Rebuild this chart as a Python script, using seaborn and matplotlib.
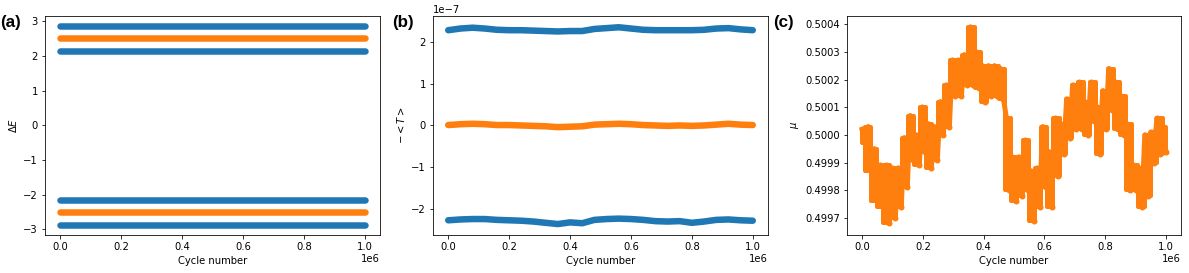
import numpy as np
import pandas as pd
import matplotlib
matplotlib.use("Agg")
import matplotlib.pyplot as plt
import seaborn as sns

# ======================
# data
# ======================
blue = "#1f77b4"
orange = "#ff7f0e"

# (a) energy gaps, constant over the run
cycles_a = [0, 1e6]
dE_blue = [2.86, 2.14, -2.14, -2.86]
dE_orange = [2.5, -2.5]

# (b) -<T>, sampled every 4e4 cycles
cycles_b = [0, 4e4, 8e4, 1.2e5, 1.6e5, 2e5, 2.4e5, 2.8e5, 3.2e5, 3.6e5, 4e5, 4.4e5, 4.8e5,
            5.2e5, 5.6e5, 6e5, 6.4e5, 6.8e5, 7.2e5, 7.6e5, 8e5, 8.4e5, 8.8e5, 9.2e5, 9.6e5, 1e6]
T_upper = [2.28, 2.32, 2.34, 2.32, 2.29, 2.28, 2.28, 2.27, 2.26, 2.25, 2.26, 2.26, 2.31,
           2.33, 2.35, 2.32, 2.29, 2.28, 2.28, 2.28, 2.28, 2.29, 2.32, 2.33, 2.30, 2.28]
T_mid = [0.01, 0.03, 0.04, 0.03, 0.01, 0.01, 0.0, -0.01, -0.02, -0.04, -0.03, -0.02, 0.02,
         0.03, 0.04, 0.03, 0.01, 0.0, -0.01, 0.0, -0.01, 0.0, 0.02, 0.04, 0.02, 0.01]
T_lower = [-2.27, -2.25, -2.24, -2.24, -2.26, -2.27, -2.28, -2.30, -2.33, -2.36, -2.32, -2.34, -2.26,
           -2.24, -2.23, -2.24, -2.26, -2.29, -2.30, -2.29, -2.33, -2.30, -2.26, -2.25, -2.27, -2.28]

# (c) mu: upper / lower edge of the noisy trace every 2e4 cycles
mu_hi = [0.50002, 0.50003, 0.49995, 0.49989, 0.49989, 0.49988, 0.49988, 0.49999, 0.50007, 0.50000,
         0.50010, 0.50004, 0.50003, 0.50012, 0.50018, 0.50027, 0.50027, 0.50029, 0.50039, 0.50030,
         0.50025, 0.50025, 0.50025, 0.50024, 0.50006, 0.49992, 0.49992, 0.49998, 0.49987, 0.49988,
         0.50003, 0.49994, 0.50006, 0.50004, 0.50013, 0.50018, 0.50019, 0.50012, 0.50019, 0.50010,
         0.50016, 0.50024, 0.50019, 0.50014, 0.50004, 0.49989, 0.49988, 0.50000, 0.50001, 0.50006,
         0.50003]
mu_lo = [0.49997, 0.49987, 0.49976, 0.49974, 0.49968, 0.49970, 0.49974, 0.49981, 0.49991, 0.49989,
         0.49994, 0.49988, 0.49991, 0.50000, 0.50003, 0.50014, 0.50014, 0.50018, 0.50018, 0.50017,
         0.50012, 0.50014, 0.50014, 0.50013, 0.49980, 0.49976, 0.49978, 0.49980, 0.49969, 0.49974,
         0.49981, 0.49974, 0.49985, 0.49993, 0.49999, 0.50002, 0.50002, 0.50000, 0.50005, 0.49993,
         0.50002, 0.50009, 0.50002, 0.50000, 0.49980, 0.49980, 0.49974, 0.49978, 0.49990, 0.49993,
         0.49994]
cycles_c = np.linspace(0, 1e6, len(mu_hi))

# interleave the two edges into one jittery trace
mu = [v for pair in zip(mu_hi, mu_lo) for v in pair]
cycles_mu = np.linspace(0, 1e6, len(mu))

# ======================
# figure
# ======================
fig = plt.figure(figsize=(1189 / 72, 273 / 72), dpi=72)
W, H = 1189, 273
bot = (H - 234.5) / H
hgt = 218.5 / H
ax_a = fig.add_axes([45 / W, bot, 335 / W, hgt])
ax_b = fig.add_axes([433 / W, bot, 335 / W, hgt])
ax_c = fig.add_axes([847 / W, bot, 334 / W, hgt])

line_kw = dict(linewidth=6.5, solid_capstyle="round", legend=False)

# (a)
for v in dE_blue:
    sns.lineplot(x=cycles_a, y=[v, v], color=blue, ax=ax_a, **line_kw)
for v in dE_orange:
    sns.lineplot(x=cycles_a, y=[v, v], color=orange, ax=ax_a, **line_kw)
ax_a.set_ylabel(r"$\Delta E$")
ax_a.set_xlabel("Cycle number")

# (b)
sns.lineplot(x=cycles_b, y=np.array(T_upper) * 1e-7, color=blue, ax=ax_b, **line_kw)
sns.lineplot(x=cycles_b, y=np.array(T_mid) * 1e-7, color=orange, ax=ax_b, **line_kw)
sns.lineplot(x=cycles_b, y=np.array(T_lower) * 1e-7, color=blue, ax=ax_b, **line_kw)
ax_b.set_ylim(-2.61e-7, 2.62e-7)
ax_b.set_ylabel(r"$-<T>$")
ax_b.set_xlabel("Cycle number")

# (c) band between the edges, plus the jittery trace on top
ax_c.fill_between(cycles_c, mu_lo, mu_hi, color=orange, linewidth=4,
                  edgecolor=orange, step="mid")
sns.lineplot(x=cycles_mu, y=mu, color=orange, ax=ax_c, linewidth=5,
             marker="o", markersize=6, markeredgewidth=0, legend=False)
ax_c.set_ylim(0.49964, 0.50043)
ax_c.set_ylabel(r"$\mu$")
ax_c.set_xlabel("Cycle number")

for ax in (ax_a, ax_b, ax_c):
    ax.set_xlim(-0.05e6, 1.05e6)
    ax.set_xticks([0, 0.2e6, 0.4e6, 0.6e6, 0.8e6, 1e6])

# panel letters
for xpos, lab in [(0.0, "(a)"), (392 / W, "(b)"), (773 / W, "(c)")]:
    fig.text(xpos, 1 - 22 / H, lab, ha="left", va="center", fontsize=17,
             fontweight="bold", family="Liberation Sans")

fig.savefig("out.png", dpi=72)
